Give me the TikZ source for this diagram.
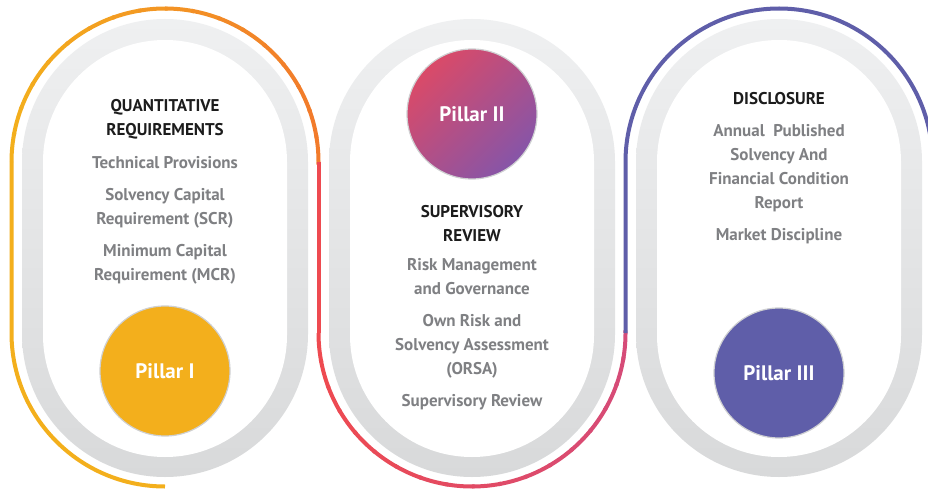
\documentclass[tikz,border=0pt]{standalone}
\usepackage{fontspec}
\setmainfont{PT Sans}
\usetikzlibrary{positioning}

\definecolor{bandtop}{HTML}{EFF0F1}
\definecolor{bandbot}{HTML}{D8D9DA}
\definecolor{yelw}{HTML}{F3AF1C}
\definecolor{orng}{HTML}{F27A2B}
\definecolor{redd}{HTML}{EE4A50}
\definecolor{pinkk}{HTML}{D64B78}
\definecolor{purp}{HTML}{5F5EA9}
\definecolor{pinkred}{HTML}{DA4A68}
\definecolor{violet}{HTML}{8655A8}
\definecolor{circrim}{HTML}{CFD0D2}
\definecolor{headtxt}{HTML}{1C1C1C}
\definecolor{itemtxt}{HTML}{7F8083}

\tikzset{
  band/.style={top color=bandtop, bottom color=bandbot},
  snake/.style={line width=4pt},
  pillar/.style={circle, minimum size=130pt, inner sep=0pt, draw=circrim, line width=1.2pt,
    text=white, font=\fontsize{21}{24}\selectfont\bfseries},
  heading/.style={align=center, inner sep=0pt, text=headtxt, font=\fontsize{17}{24}\selectfont\bfseries},
  items/.style={align=center, inner sep=0pt, text=itemtxt, font=\fontsize{17}{24}\selectfont\bfseries}
}

\begin{document}
\begin{tikzpicture}[x=1pt,y=1pt]
\useasboundingbox (0,0) rectangle (928,488);
\fill[white] (0,0) rectangle (928,488);

\foreach \cx in {165,472,779}{
  \shade[band, rounded corners=143pt] (\cx-143,11) rectangle (\cx+143,469);
  \fill[white, rounded corners=122pt] (\cx-122,31) rectangle (\cx+122,448);
}

\draw[snake, yelw] (165,1.5) arc[start angle=270, end angle=180, radius=153.5] -- (11.5,326);
\foreach \a in {180,170,...,10}{
  \pgfmathtruncatemacro\p{50+50*cos(\a-5)}
  \draw[snake, orng!\p!yelw] (165,326) ++(\a:153.5) arc[start angle=\a, end angle=\a-11, radius=153.5];
}

\draw[snake, redd] (318.5,326) -- (318.5,155);
\foreach \a in {180,190,...,350}{
  \pgfmathtruncatemacro\p{50+50*cos(\a+5)}
  \draw[snake, pinkk!\p!redd] (472,155) ++(\a:153.5) arc[start angle=\a, end angle=\a+11, radius=153.5];
}

\draw[snake, purp] (625.5,155) -- (625.5,326) arc[start angle=180, end angle=0, radius=153.5] -- (932.5,155);

\node[pillar, fill=yelw] (p1) at (165,117) {Pillar I};
\node[pillar, left color=pinkred, right color=violet, shading angle=45] (p2) at (472,374) {Pillar II};
\node[pillar, fill=purp] (p3) at (779,115) {Pillar III};

\node[heading] (quant) at (165,369) {QUANTITATIVE\\REQUIREMENTS};
\node[items] (quantlist) [below of=quant, node distance=101pt]
  {Technical Provisions\\[8pt]Solvency Capital\\Requirement (SCR)\\[8pt]Minimum Capital\\Requirement (MCR)};

\node[heading] (superv) at (472,265) {SUPERVISORY\\REVIEW};
\node[items] (supervlist) [below of=superv, node distance=111.5pt]
  {Risk Management\\and Governance\\[8pt]Own Risk and\\Solvency Assessment\\(ORSA)\\[8pt]Supervisory Review};

\node[heading] (disc) at (779,389) {DISCLOSURE};
\node[items] (disclist) [below of=disc, node distance=85pt]
  {Annual\ \ Published\\Solvency And\\Financial Condition\\Report\\[8pt]Market Discipline};
\end{tikzpicture}
\end{document}
